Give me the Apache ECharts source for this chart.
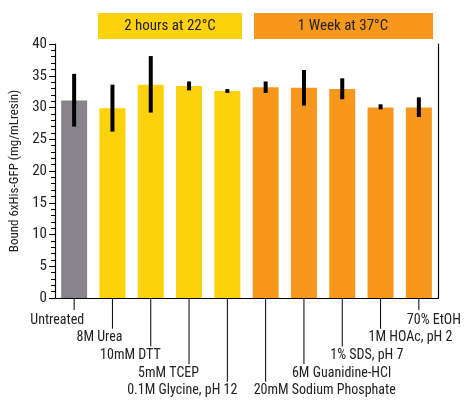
<!DOCTYPE html>
<html><head><meta charset="utf-8">
<script src="https://cdn.jsdelivr.net/npm/echarts@6/dist/echarts.min.js"></script>
<style>html,body{margin:0;padding:0;background:#fff}#c{width:470px;height:413px}</style>
</head><body><div id="c"></div>
<script>
const categories = ['Untreated','8M Urea','10mM DTT','5mM TCEP','0.1M Glycine, pH 12','20mM Sodium Phosphate','6M Guanidine-HCl','1% SDS, pH 7','1M HOAc, pH 2','70% EtOH'];
const values = [31.1, 29.9, 33.6, 33.4, 32.6, 33.2, 33.1, 32.9, 30.0, 30.0];
const errLow = [27.0, 26.2, 29.2, 32.7, 32.3, 32.3, 30.3, 31.3, 29.7, 28.5];
const errHigh = [35.3, 33.6, 38.1, 34.1, 32.9, 34.1, 35.9, 34.6, 30.5, 31.6];
const labelDepth = [0, 1, 2, 3, 4, 4, 3, 2, 1, 0];
const groups = ['gray','y','y','y','y','o','o','o','o','o'];
const colorMap = {gray:'#87858b', y:'#fdd20a', o:'#f7981d'};
const FONT = '"Liberation Sans Narrow","Roboto Condensed","Liberation Sans",sans-serif';
const chart = echarts.init(document.getElementById('c'));
chart.setOption({
  animation:false,
  grid:{left:55,right:32,top:44,bottom:115},
  graphic:[
    {type:'rect',shape:{x:98,y:13,width:144,height:26},style:{fill:'#fdd20a'}},
    {type:'text',x:170,y:26,style:{text:'2 hours at 22°C',font:'15px '+FONT,fill:'#222',align:'center',verticalAlign:'middle'}},
    {type:'rect',shape:{x:254,y:13,width:179,height:26},style:{fill:'#f7981d'}},
    {type:'text',x:343,y:26,style:{text:'1 Week at 37°C',font:'15px '+FONT,fill:'#222',align:'center',verticalAlign:'middle'}}
  ],
  xAxis:[{type:'category',data:categories,axisLabel:{show:false},axisTick:{show:false},
    axisLine:{lineStyle:{color:'#000',width:1.2}}},
    {type:'category',position:'top',data:categories,axisLabel:{show:false},axisTick:{show:false},axisLine:{show:true,lineStyle:{color:'#000',width:1.2}}}],
  yAxis:[{type:'value',min:0,max:40,interval:5,name:'Bound 6xHis-GFP (mg/mLresin)',nameLocation:'middle',nameGap:34,
    nameTextStyle:{fontFamily:FONT,fontSize:13,color:'#222'},
    axisLine:{show:true,lineStyle:{color:'#000',width:1.2}},
    axisTick:{show:true,length:6,lineStyle:{color:'#000'}},
    minorTick:{show:true,splitNumber:5,length:4,lineStyle:{color:'#000'}},
    splitLine:{show:false},
    axisLabel:{fontFamily:FONT,fontSize:15,color:'#222',margin:8}},
    {type:'value',min:0,max:40,position:'right',axisLine:{show:true,lineStyle:{color:'#000',width:1.2}},axisTick:{show:false},axisLabel:{show:false},splitLine:{show:false}}],
  series:[
    {type:'bar',data:values.map((v,i)=>({value:v,itemStyle:{color:colorMap[groups[i]]}})),barWidth:26},
    {type:'custom',data:values.map((v,i)=>[i,errLow[i],errHigh[i]]),z:5,
      renderItem:(p,api)=>{const a=api.coord([api.value(0),api.value(1)]);const b=api.coord([api.value(0),api.value(2)]);
        return {type:'line',shape:{x1:a[0],y1:a[1],x2:b[0],y2:b[1]},style:{stroke:'#000',lineWidth:4}};}},
    {type:'custom',data:values.map((v,i)=>[i,0,labelDepth[i]]),z:6,clip:false,
      renderItem:(p,api)=>{const i=api.value(0);const c=api.coord([i,0]);const d=api.value(2);
        const ly=c[1]+22+d*17.7;const left=i<5;
        return {type:'group',children:[
          {type:'line',shape:{x1:c[0],y1:c[1],x2:c[0],y2:ly-(d===0?10:9)},style:{stroke:'#000',lineWidth:1}},
          {type:'text',style:{x:left?c[0]+10:c[0]-12,y:ly,text:categories[i],font:'14px '+FONT,fill:'#222',align:left?'right':'left',verticalAlign:'middle'}}
        ]};}}
  ]
});
</script></body></html>
